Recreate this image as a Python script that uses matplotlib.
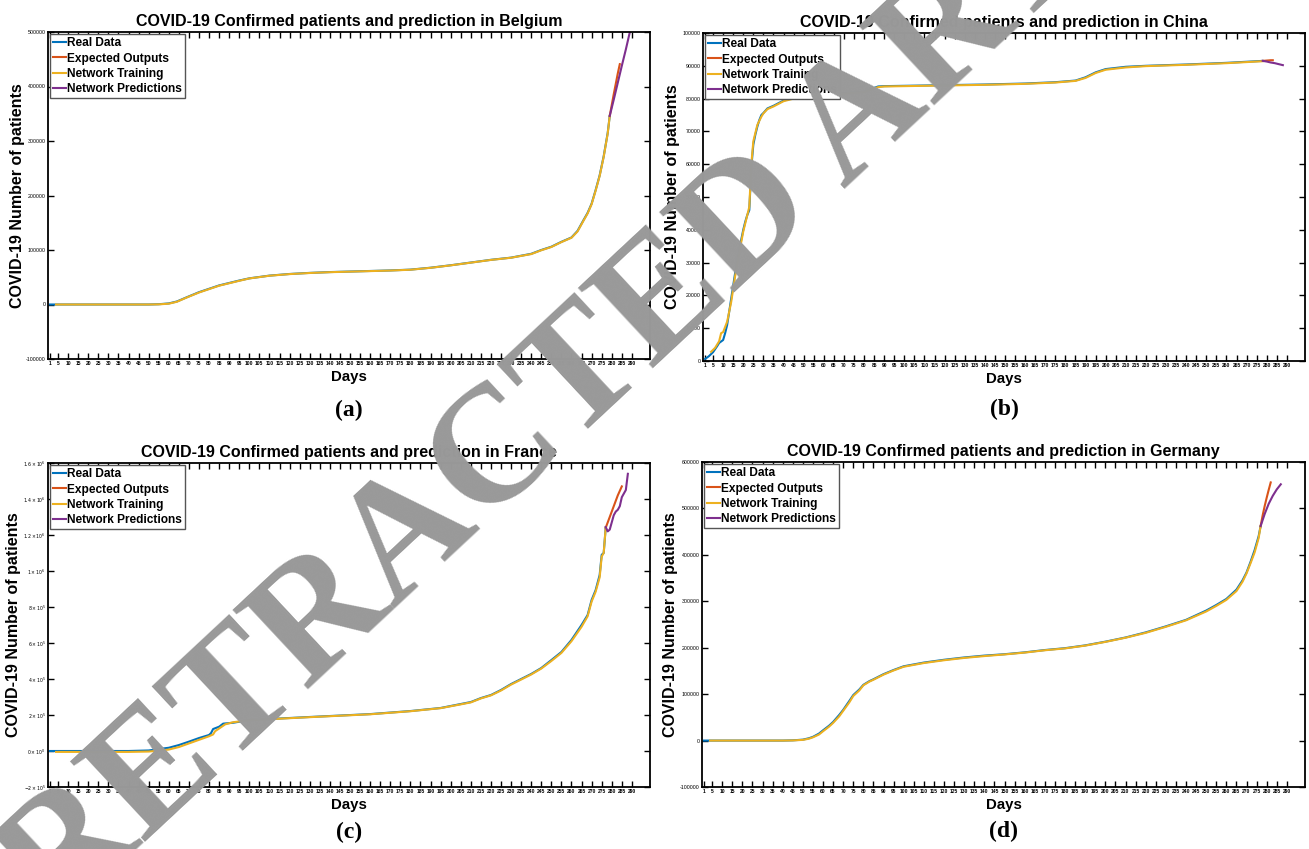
import matplotlib.pyplot as plt

plt.rcParams['font.family'] = ['Liberation Sans', 'DejaVu Sans']

# MATLAB default line colours
C_REAL = '#0072BD'
C_EXP = '#D95319'
C_TRAIN = '#EDB120'
C_PRED = '#7E2F8E'

x_ticks = [1] + list(range(5, 291, 5))

# ------------------ Belgium ------------------
bel_real_days = [1, 10, 20, 30, 40, 50, 55, 60, 64, 69, 75, 85, 95, 100, 110, 120, 130, 140, 150,
                 160, 170, 180, 190, 200, 210, 220, 230, 240, 245, 250, 255, 260, 263, 266, 268,
                 270, 272, 274, 276, 278, 279]
bel_real = [0, 0, 0, 0, 0, 0, 500, 2000, 5500, 13400, 22600, 35000, 44000, 48000, 53000, 56000,
            58000, 59500, 60500, 61500, 62500, 64000, 67500, 72000, 77000, 82000, 86000, 93000,
            100000, 106000, 115000, 123000, 135000, 155000, 168000, 185000, 210000, 237000,
            272000, 315000, 346000]
bel_train_days = [4, 10, 20, 30, 40, 50, 55, 60, 64, 69, 75, 85, 95, 100, 110, 120, 130, 140, 150,
                  160, 170, 180, 190, 200, 210, 220, 230, 240, 245, 250, 255, 260, 263, 266, 268,
                  270, 272, 274, 276, 278, 279]
bel_train = [0, 0, 0, 0, 0, 0, 300, 1500, 5000, 13000, 22000, 34500, 43500, 47800, 52800, 55800,
             57800, 59300, 60300, 61300, 62300, 63800, 67300, 71800, 76800, 81800, 85800, 92500,
             99500, 105500, 114500, 122500, 134000, 154000, 167000, 184000, 209000, 236000,
             271000, 314000, 346000]
bel_exp_days = [279, 280, 281, 282, 283, 284]
bel_exp = [346000, 366000, 386000, 405000, 424000, 441000]
bel_pred_days = [279, 281, 283, 285, 287, 289]
bel_pred = [346000, 376000, 407000, 438000, 468000, 500000]
bel_yticks = [-100000, 0, 100000, 200000, 300000, 400000, 500000]
bel_ylabels = ['-100000', '0', '100000', '200000', '300000', '400000', '500000']

# ------------------ China ------------------
chn_real_days = [1, 3, 5, 7, 8, 10, 11, 12, 13, 14, 15, 16, 17, 18, 19, 20, 21, 22, 23, 24, 25,
                 26, 27, 28, 29, 30, 32, 35, 40, 45, 50, 60, 70, 80, 87, 90, 100, 120, 140, 160,
                 175, 185, 190, 195, 200, 210, 220, 240, 260, 278]
chn_real = [600, 1500, 2700, 4500, 5500, 6400, 8500, 11000, 15000, 19000, 23000, 27000, 30500,
            34000, 37000, 40000, 42500, 44500, 46000, 59000, 66000, 69000, 71500, 73500, 75000,
            75600, 77000, 77800, 79400, 80200, 80800, 81300, 81700, 82100, 83700, 83800, 83900,
            84100, 84300, 84600, 85000, 85500, 86500, 88000, 89000, 89700, 90000, 90400, 90900,
            91500]
chn_train_days = [4, 6, 8, 9, 10, 12, 14, 16, 18, 20, 22, 23, 24, 25, 27, 29, 30, 32, 35, 40, 45,
                  50, 60, 70, 80, 87, 90, 100, 120, 140, 160, 175, 185, 190, 195, 200, 210, 220,
                  240, 260, 278]
chn_train = [2800, 4000, 6000, 8500, 8800, 12000, 18000, 26000, 33000, 39500, 44500, 47000, 60000,
             67000, 72000, 74500, 75500, 76800, 77600, 79200, 80000, 80600, 81100, 81500, 82000,
             83500, 83700, 83800, 84000, 84200, 84500, 84900, 85400, 86300, 87800, 88800, 89500,
             89900, 90300, 90800, 91400]
chn_exp_days = [278, 279, 280, 281, 282, 283]
chn_exp = [91500, 91550, 91600, 91650, 91700, 91700]
chn_pred_days = [278, 280, 282, 284, 286, 288]
chn_pred = [91500, 91300, 91000, 90800, 90500, 90200]
chn_yticks = [0, 10000, 20000, 30000, 40000, 50000, 60000, 70000, 80000, 90000, 100000]
chn_ylabels = ['0', '10000', '20000', '30000', '40000', '50000', '60000', '70000', '80000',
               '90000', '100000']

# ------------------ France ------------------
fra_real_days = [1, 10, 20, 30, 40, 50, 55, 60, 65, 70, 75, 80, 81, 82, 85, 87, 92, 100, 130, 160,
                 180, 195, 205, 210, 215, 220, 225, 230, 235, 240, 245, 250, 255, 260, 265, 268,
                 270, 272, 274, 275, 276, 277]
fra_real = [0, 0, 0, 0, 0, 3000, 11000, 18000, 33000, 52000, 72000, 89000, 100000, 122000, 135000,
            152000, 157000, 172000, 189000, 205000, 222000, 239000, 261000, 272000, 294000, 311000,
            339000, 372000, 400000, 428000, 461000, 505000, 550000, 617000, 700000, 755000, 839000,
            894000, 978000, 1090000, 1100000, 1240000]
fra_train_days = [4, 10, 20, 30, 40, 50, 55, 60, 65, 70, 75, 80, 82, 83, 85, 88, 92, 100, 130, 160,
                  180, 195, 205, 210, 215, 220, 225, 230, 235, 240, 245, 250, 255, 260, 265, 268,
                  270, 272, 274, 275, 276, 277]
fra_train = [-5000, -5000, -5000, -5000, -5000, -3000, 2000, 8000, 22000, 42000, 62000, 82000,
             92000, 110000, 125000, 148000, 160000, 171000, 188000, 204000, 221000, 238000, 259000,
             270000, 292000, 309000, 336000, 369000, 397000, 425000, 458000, 500000, 545000,
             610000, 690000, 748000, 830000, 885000, 965000, 1080000, 1100000, 1240000]
fra_exp_days = [277, 279, 281, 283, 285]
fra_exp = [1240000, 1300000, 1360000, 1420000, 1470000]
fra_pred_days = [277, 278, 279, 281, 282, 283, 284, 285, 287, 288]
fra_pred = [1244000, 1220000, 1230000, 1310000, 1330000, 1340000, 1360000, 1410000, 1450000,
            1540000]
fra_yticks = [-200000, 0, 200000, 400000, 600000, 800000, 1000000, 1200000, 1400000, 1600000]
fra_ylabels = [r'$-2\times10^{5}$', r'$0\times10^{0}$', r'$2\times10^{5}$', r'$4\times10^{5}$',
               r'$6\times10^{5}$', r'$8\times10^{5}$', r'$1\times10^{6}$', r'$1.2\times10^{6}$',
               r'$1.4\times10^{6}$', r'$1.6\times10^{6}$']

# ------------------ Germany ------------------
ger_real_days = [1, 10, 20, 30, 40, 45, 50, 53, 55, 58, 60, 63, 65, 68, 70, 73, 75, 78, 80, 83, 85,
                 90, 95, 100, 110, 120, 130, 140, 150, 160, 170, 180, 190, 200, 210, 220, 230, 240,
                 250, 255, 260, 265, 268, 270, 272, 274, 276, 277]
ger_real = [0, 0, 0, 0, 0, 500, 2000, 5000, 8000, 15000, 22000, 32000, 40000, 55000, 66000, 85000,
            98000, 110000, 120000, 128000, 132000, 143000, 152000, 160000, 168000, 174000, 179000,
            183000, 186000, 190000, 195000, 199000, 205000, 213000, 222000, 233000, 246000, 260000,
            280000, 292000, 305000, 325000, 345000, 362000, 385000, 410000, 440000, 462000]
ger_train_days = [4, 10, 20, 30, 40, 45, 50, 53, 55, 58, 60, 63, 65, 68, 70, 73, 75, 78, 80, 83, 85,
                  90, 95, 100, 110, 120, 130, 140, 150, 160, 170, 180, 190, 200, 210, 220, 230,
                  240, 250, 255, 260, 265, 268, 270, 272, 274, 276, 277]
ger_train = [0, 0, 0, 0, 0, 300, 1500, 4000, 7000, 13000, 20000, 30000, 38000, 52000, 64000, 82000,
             96000, 108000, 119000, 127000, 131000, 142000, 151000, 159000, 167000, 173000, 178000,
             182000, 185500, 189500, 194500, 198500, 204500, 212500, 221500, 232000, 245000,
             259000, 278000, 290000, 303000, 322000, 342000, 360000, 382000, 405000, 436000,
             462000]
ger_exp_days = [277, 278, 279, 280, 281, 282]
ger_exp = [462000, 485000, 505000, 523000, 540000, 556000]
ger_pred_days = [277, 279, 281, 283, 285, 287]
ger_pred = [462000, 488000, 510000, 527000, 541000, 552000]
ger_yticks = [-100000, 0, 100000, 200000, 300000, 400000, 500000, 600000]
ger_ylabels = ['-100000', '0', '100000', '200000', '300000', '400000', '500000', '600000']


def draw_panel(ax, country, real, train, exp, pred, yticks, ylabels, ytick_size, ylab_x):
    ax.plot(real[0], real[1], color=C_REAL, lw=1.5, label='Real Data')
    ax.plot(exp[0], exp[1], color=C_EXP, lw=1.5, label='Expected Outputs')
    ax.plot(train[0], train[1], color=C_TRAIN, lw=1.5, label='Network Training')
    ax.plot(pred[0], pred[1], color=C_PRED, lw=1.5, label='Network Predictions')

    ax.set_xlim(0, 299)
    ax.set_ylim(yticks[0], yticks[-1])
    ax.set_xticks(x_ticks)
    ax.set_xticklabels([str(t) for t in x_ticks], fontsize=3.6, fontweight='bold')
    ax.set_yticks(yticks)
    ax.set_yticklabels(ylabels, fontsize=ytick_size)
    ax.tick_params(direction='in', length=4.3, width=1.0, top=True, right=True, pad=1.5)
    for s in ax.spines.values():
        s.set_linewidth(1.3)

    ax.set_title('COVID-19 Confirmed patients and prediction in ' + country,
                 fontsize=11.5, fontweight='bold', pad=4)
    ax.set_xlabel('Days', fontsize=10.8, fontweight='bold', labelpad=3)
    ax.set_ylabel('COVID-19 Number of patients', fontsize=11.5, fontweight='bold', va='center')
    ax.yaxis.set_label_coords(ylab_x, 0.5)

    leg = ax.legend(loc='upper left', prop={'weight': 'bold', 'size': 8.6},
                    handlelength=1.05, handletextpad=0.12, borderpad=0.25, labelspacing=0.27,
                    borderaxespad=0.2, fancybox=False, framealpha=1)
    leg.get_frame().set_edgecolor('#555555')
    leg.get_frame().set_linewidth(1.0)


fig = plt.figure(figsize=(13.09, 8.49), dpi=100)
W, H = 1309, 849


def rect(x0, y0, x1, y1):
    return [x0 / W, 1 - y1 / H, (x1 - x0) / W, (y1 - y0) / H]


ax_a = fig.add_axes(rect(48, 32, 650, 359))
ax_b = fig.add_axes(rect(703, 33, 1305, 361))
ax_c = fig.add_axes(rect(48, 463, 650, 787))
ax_d = fig.add_axes(rect(702, 462, 1305, 787))

draw_panel(ax_a, 'Belgium', (bel_real_days, bel_real), (bel_train_days, bel_train),
           (bel_exp_days, bel_exp), (bel_pred_days, bel_pred), bel_yticks, bel_ylabels, 3.8, -0.051)
draw_panel(ax_b, 'China', (chn_real_days, chn_real), (chn_train_days, chn_train),
           (chn_exp_days, chn_exp), (chn_pred_days, chn_pred), chn_yticks, chn_ylabels, 3.8, -0.051)
draw_panel(ax_c, 'France', (fra_real_days, fra_real), (fra_train_days, fra_train),
           (fra_exp_days, fra_exp), (fra_pred_days, fra_pred), fra_yticks, fra_ylabels, 3.3, -0.057)
draw_panel(ax_d, 'Germany', (ger_real_days, ger_real), (ger_train_days, ger_train),
           (ger_exp_days, ger_exp), (ger_pred_days, ger_pred), ger_yticks, ger_ylabels, 3.8, -0.053)

# panel letters
for (px, py), letter in zip([(349, 410), (1004, 409), (349, 832), (1003, 831)],
                            ['(a)', '(b)', '(c)', '(d)']):
    fig.text(px / W, 1 - py / H, letter, ha='center', va='center', fontsize=17,
             fontweight='bold', family='Liberation Serif')

# retraction watermark on top of everything
fig.text(698 / W, 1 - 272 / H, 'RETRACTED ARTICLE', rotation=43, ha='center', va='center',
         rotation_mode='anchor', fontsize=120, fontweight='bold', family='Liberation Serif',
         color='#999999', zorder=10)

fig.savefig('out.png', dpi=100)
